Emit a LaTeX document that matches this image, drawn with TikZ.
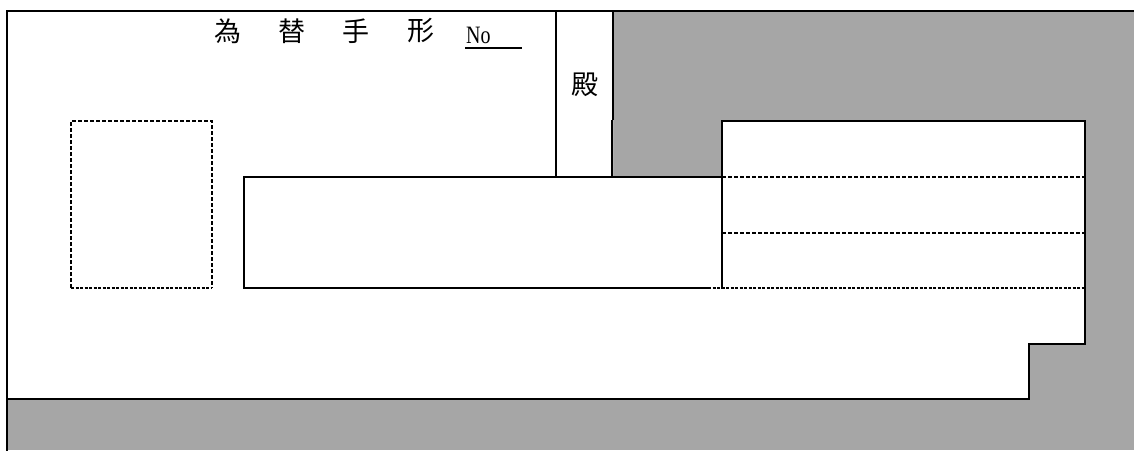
\documentclass[tikz,border=0pt]{standalone}
\usepackage{fontspec}
\newfontfamily\cjk{Noto Sans CJK JP}
\newfontfamily\noserif[FakeStretch=0.8]{Liberation Serif}
\definecolor{formgrey}{RGB}{166,166,166}
\begin{document}
\begin{tikzpicture}[x=1pt,y=-1pt,
  solidline/.style={line width=2pt,line cap=rect},
  thinsolid/.style={line width=1.6pt},
  dashline/.style={line width=1.6pt,dash pattern=on 4pt off 2pt},
  dotline/.style={line width=2.6pt,dash pattern=on 3pt off 1.5pt},
  kanji/.style={inner sep=0pt,font=\cjk\fontsize{27pt}{27pt}\selectfont}]
\useasboundingbox (0,0) rectangle (1134,450);
% grey background and white form area
\fill[formgrey] (7,11) rectangle (1134,450);
\fill[white] (7,11) -- (613,11) -- (613,177) -- (722,177) -- (722,121) -- (1085,121)
  -- (1085,344) -- (1029,344) -- (1029,399) -- (7,399) -- cycle;
% named corner points
\coordinate (tl) at (7,11);
\coordinate (tr) at (1134,11);
\coordinate (bl) at (7,450);
\coordinate (c1t) at (556,11);
\coordinate (c1b) at (556,177);
\coordinate (c2t) at (613,11);
\coordinate (c2m) at (613,120);
\coordinate (c2n) at (612,120);
\coordinate (c2b) at (612,177);
\coordinate (mtl) at (244,177);
\coordinate (mbl) at (244,288);
\coordinate (mbe) at (708,288);
\coordinate (rtl) at (722,121);
\coordinate (rtr) at (1085,121);
\coordinate (rbl) at (722,288);
\coordinate (rbr) at (1085,288);
\coordinate (r1l) at (722,177);
\coordinate (r1r) at (1084,177);
\coordinate (r2l) at (722,233);
\coordinate (r2r) at (1084,233);
\coordinate (s1) at (1085,344);
\coordinate (s2) at (1029,344);
\coordinate (s3) at (1029,399);
\coordinate (s4) at (7,399);
\coordinate (ptl) at (71,121);
\coordinate (ptr) at (212,121);
\coordinate (pbl) at (71,288);
\coordinate (pbr) at (212,288);
% frame
\draw[solidline] (tl) -- (tr);
\draw[solidline] (tl) -- (bl);
\draw[thinsolid] (c1t) -- (c1b);
\draw[thinsolid] (c2t) -- (c2m);
\draw[thinsolid] (c2n) -- (c2b);
% middle box
\draw[solidline] (mtl) -- (r1l);
\draw[solidline] (mtl) -- (mbl) -- (mbe);
% right box
\draw[solidline] (rbl) -- (rtl) -- (rtr) -- (s1) -- (s2) -- (s3) -- (s4);
\draw[dashline] (r1l) -- (r1r);
\draw[dashline] (r2l) -- (r2r);
\draw[dotline] (mbe) -- (rbr);
% stamp box
\draw[dashline] (pbl) -- (ptl) -- (ptr) -- (pbr);
\draw[dotline] (pbl) -- (pbr);
% texts
\node[kanji] (k1) at (228,31) {為};
\node[kanji] (k2) at (292,31) {替};
\node[kanji] (k3) at (356,31) {手};
\node[kanji] (k4) at (421,31) {形};
\node[inner sep=0pt,font=\noserif\fontsize{25pt}{25pt}\selectfont,anchor=base west] (no) at (466,43) {No};
\coordinate (ul1) at (465,48);
\coordinate (ul2) at (522,48);
\draw[line width=1.6pt] (ul1) -- (ul2);
\node[kanji] (den) at (585,85) {殿};
\end{tikzpicture}
\end{document}
